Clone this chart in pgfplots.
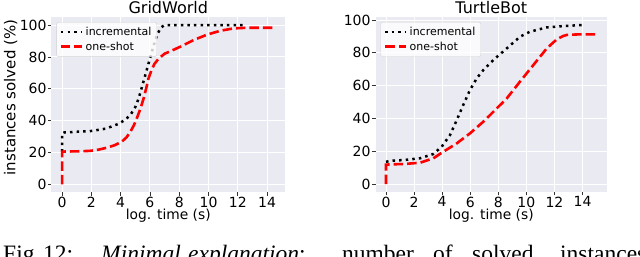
\documentclass[border=0pt]{standalone}
\usepackage{fontspec}
\setmainfont{DejaVu Sans}
\newfontfamily\capfont{Liberation Serif}
\usepackage{pgfplots}
\pgfplotsset{compat=1.18}
\definecolor{bgc}{HTML}{EAEAF2}
\definecolor{tickc}{HTML}{333333}
\pgfplotsset{
  every axis title shift=0pt,
  myax/.style={
    scale only axis,
    axis background/.style={fill=bgc},
    axis line style={draw=none},
    grid=major,
    major grid style={white, line width=1pt},
    tick align=outside,
    xtick pos=bottom, ytick pos=left,
    major tick length=3.5pt,
    tick style={tickc, line width=0.8pt},
    xtick={0,2,...,14},
    ytick={0,20,...,100},
    /pgf/number format/assume math mode=true,
    tick label style={font=\fontsize{14}{14}\selectfont, inner sep=0pt},
    xticklabel shift=1pt,
    yticklabel shift=1.3pt,
    title style={font=\fontsize{16}{16}\selectfont, at={(axis description cs:0.5,1)}, anchor=base, yshift=3.5pt},
    xlabel style={font=\fontsize{13.8}{13.8}\selectfont, inner sep=0pt, at={(axis description cs:0.5,0)}, anchor=base, yshift=-27.5pt},
    legend style={at={(axis description cs:0,1)}, anchor=north west, xshift=5pt, yshift=-5pt,
      draw=black!18, fill=white, fill opacity=0.8, text opacity=1, rounded corners=2pt,
      font=\fontsize{11}{12}\selectfont, inner xsep=3pt, inner ysep=2.5pt,
      nodes={inner sep=2.4pt}},
    legend cell align=left,
    legend image code/.code={\draw[#1] (0pt,0pt) -- (21pt,0pt);},
  },
  incr/.style={black, line width=2.5pt, dash pattern=on 2.5pt off 4.1pt},
  oneshot/.style={red, line width=2.6pt, dash pattern=on 9.5pt off 4pt},
}
\begin{document}
\begin{tikzpicture}[x=1pt,y=1pt]
\useasboundingbox (0,0) rectangle (640,257);
\begin{axis}[myax, at={(51.5pt,64.7pt)}, anchor=south west,
  width=233.5pt, height=175.2pt,
  xmin=-0.725, xmax=15.225, ymin=-5, ymax=105,
  title={GridWorld}, xlabel={log. time (s)},
  ylabel={instances solved (\%)},
  ylabel style={font=\fontsize{15}{15}\selectfont, inner sep=0pt, at={(axis description cs:0,0.541)}, anchor=base, yshift=36pt},
]
\addplot[incr] coordinates {
(0,20.5)(0,32)(0.15,32.6)(1,33)(2,33.5)(3,35)(3.86,38)(4.3,40.5)(4.66,43.5)(5.0,48.5)(5.23,54)(5.45,61)(5.68,68.5)(6.03,80)(6.25,87)(6.48,93.7)(6.75,98.5)(7.0,100)(12.5,100)};
\addlegendentry{incremental}
\addplot[oneshot] coordinates {
(0,0)(0,20.5)(0.2,20.6)(1,20.7)(1.9,21)(2.5,21.8)(3.06,23)(3.6,24.6)(4.08,26.8)(4.4,29.5)(4.66,33)(4.9,37)(5.1,41.4)(5.35,47.5)(5.57,54)(5.75,60.5)(5.9,66.5)(6.1,71.5)(6.3,75.5)(6.6,79)(7.0,82)(7.5,84)(8.07,86.4)(8.99,90.6)(9.9,94)(10.8,96.4)(11.7,97.9)(12.6,98.3)(14.5,98.3)};
\addlegendentry{one-shot}
\end{axis}
\begin{axis}[myax, at={(375.5pt,65pt)}, anchor=south west,
  width=231.6pt, height=175pt,
  xmin=-0.75, xmax=15.75, ymin=-4.85, ymax=101.85,
  title={TurtleBot}, xlabel={log. time (s)},
]
\addplot[incr] coordinates {
(0,13.6)(0.5,14.3)(1.24,14.6)(2.42,15.7)(3.37,18.3)(3.97,22.8)(4.56,29.9)(5.04,39)(5.5,48.2)(5.98,57.3)(6.46,64.4)(6.93,69.5)(7.64,75.6)(8.6,82.7)(9.54,89.8)(10.26,92.9)(11.45,95.5)(12.6,96.3)(14.06,97)};
\addlegendentry{incremental}
\addplot[oneshot] coordinates {
(0,0)(0,11.8)(0.3,12)(1.24,12.2)(2.42,13)(3.37,15.7)(3.97,19.1)(5.04,24.8)(5.98,30.9)(6.93,38)(7.64,44)(8.6,52.2)(9.54,62.4)(10.5,72.6)(11.45,82.7)(12.16,88.2)(12.6,90.2)(12.87,90.9)(13.8,91.3)(15,91.3)};
\addlegendentry{one-shot}
\end{axis}
\begin{scope}[font=\capfont\fontsize{23.5}{23.5}\selectfont]
\node[anchor=base west, inner sep=0] at (3,-5) {Fig.};
\node[anchor=base west, inner sep=0] at (43,-5) {12:};
\node[anchor=base west, inner sep=0] at (101,-5) {\textit{Minimal}};
\node[anchor=base west, inner sep=0] at (188,-5) {\textit{explanation}:};
\node[anchor=base west, inner sep=0] at (342,-5) {number};
\node[anchor=base west, inner sep=0] at (433,-5) {of};
\node[anchor=base west, inner sep=0] at (472,-5) {solved};
\node[anchor=base west, inner sep=0] at (560,-5) {instances};
\end{scope}
\end{tikzpicture}
\end{document}
